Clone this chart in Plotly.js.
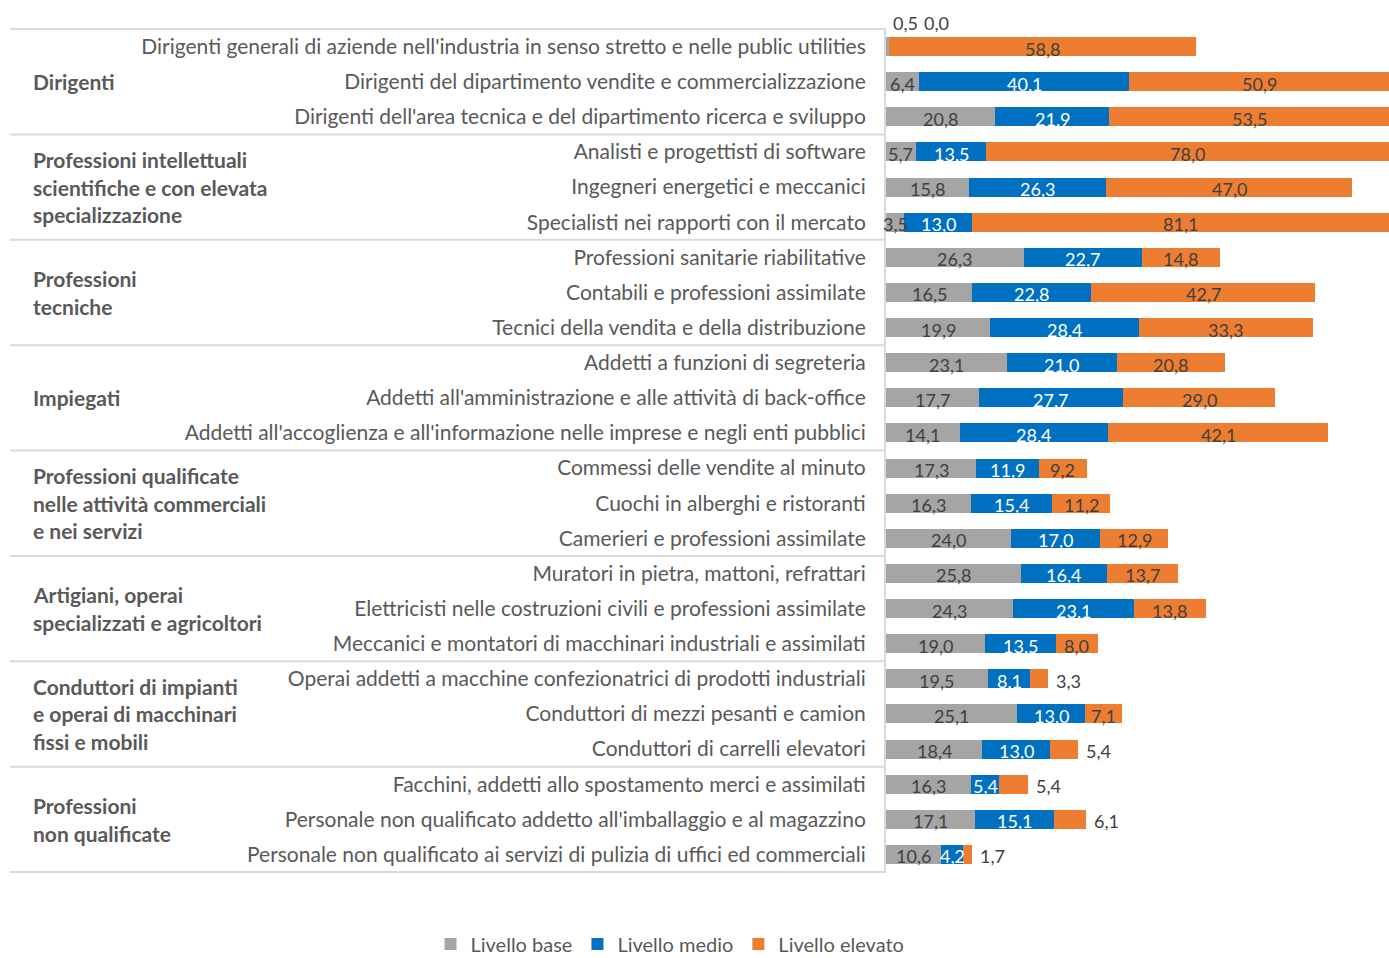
<!DOCTYPE html>
<html>
<head>
<meta charset="utf-8">
<script src="https://cdn.plot.ly/plotly-3.0.1.min.js"></script>
<style>html,body{margin:0;padding:0;background:#fff;}#chart{width:1389px;height:958px;}</style>
</head>
<body>
<div id="chart"></div>
<script>
// ---- DATA ----
const groups = [
  ["Dirigenti"],
  ["Professioni intellettuali", "scientifiche e con elevata", "specializzazione"],
  ["Professioni", "tecniche"],
  ["Impiegati"],
  ["Professioni qualificate", "nelle attività commerciali", "e nei servizi"],
  ["Artigiani, operai", "specializzati e agricoltori"],
  ["Conduttori di impianti", "e operai di macchinari", "fissi e mobili"],
  ["Professioni", "non qualificate"]
];
const categories = [
  "Dirigenti generali di aziende nell'industria in senso stretto e nelle public utilities",
  "Dirigenti del dipartimento vendite e commercializzazione",
  "Dirigenti dell'area tecnica e del dipartimento ricerca e sviluppo",
  "Analisti e progettisti di software",
  "Ingegneri energetici e meccanici",
  "Specialisti nei rapporti con il mercato",
  "Professioni sanitarie riabilitative",
  "Contabili e professioni assimilate",
  "Tecnici della vendita e della distribuzione",
  "Addetti a funzioni di segreteria",
  "Addetti all'amministrazione e alle attività di back-office",
  "Addetti all'accoglienza e all'informazione nelle imprese e negli enti pubblici",
  "Commessi delle vendite al minuto",
  "Cuochi in alberghi e ristoranti",
  "Camerieri e professioni assimilate",
  "Muratori in pietra, mattoni, refrattari",
  "Elettricisti nelle costruzioni civili e professioni assimilate",
  "Meccanici e montatori di macchinari industriali e assimilati",
  "Operai addetti a macchine confezionatrici di prodotti industriali",
  "Conduttori di mezzi pesanti e camion",
  "Conduttori di carrelli elevatori",
  "Facchini, addetti allo spostamento merci e assimilati",
  "Personale non qualificato addetto all'imballaggio e al magazzino",
  "Personale non qualificato ai servizi di pulizia di uffici ed commerciali"
];
const livelloBase = [0.5, 6.4, 20.8, 5.7, 15.8, 3.5, 26.3, 16.5, 19.9, 23.1, 17.7, 14.1, 17.3, 16.3, 24.0, 25.8, 24.3, 19.0, 19.5, 25.1, 18.4, 16.3, 17.1, 10.6];
const livelloMedio = [0.0, 40.1, 21.9, 13.5, 26.3, 13.0, 22.7, 22.8, 28.4, 21.0, 27.7, 28.4, 11.9, 15.4, 17.0, 16.4, 23.1, 13.5, 8.1, 13.0, 13.0, 5.4, 15.1, 4.2];
const livelloElevato = [58.8, 50.9, 53.5, 78.0, 47.0, 81.1, 14.8, 42.7, 33.3, 20.8, 29.0, 42.1, 9.2, 11.2, 12.9, 13.7, 13.8, 8.0, 3.3, 7.1, 5.4, 5.4, 6.1, 1.7];
const seriesNames = ["Livello base", "Livello medio", "Livello elevato"];

// ---- STYLE ----
const FONT = 'Lato, "Open Sans", sans-serif';
const colors = ["#a5a5a5", "#0070c0", "#ed7d31"];
const labelColors = ["#404040", "#ffffff", "#404040"];
const textGray = "#595959";
const lineGray = "#d9d9d9";
const XMAX = 96.2;
const W = 1389, H = 958, ML = 886, MR = 0, MT = 29, MB = 86;
const PW = W - ML - MR, PH = H - MT - MB;

const series = [livelloBase, livelloMedio, livelloElevato];
const traces = series.map((vals, i) => ({
  type: "bar", orientation: "h", name: seriesNames[i],
  y: categories, x: vals,
  marker: {color: colors[i]}, hoverinfo: "skip", textposition: "none"
}));

const fmt = v => v.toFixed(1).replace(".", ",");
const annotations = [];
categories.forEach((cat, r) => {
  let start = 0, tiny = 0;
  series.forEach((vals, i) => {
    const v = vals[r];
    const end = start + v;
    if (v < 1) {
      annotations.push({xref: "x", yref: "y", x: 0, y: cat, text: fmt(v), showarrow: false,
        xanchor: "left", yanchor: "middle", xshift: 5 + 31 * tiny, yshift: 24,
        font: {family: FONT, size: 18, color: "#404040"}});
      tiny++;
    } else if (i === 2 && v < 7) {
      annotations.push({xref: "x", yref: "y", x: end, y: cat, text: fmt(v), showarrow: false,
        xanchor: "left", yanchor: "middle", xshift: 6, yshift: -2,
        font: {family: FONT, size: 18, color: "#404040"}});
    } else {
      const mid = (start + Math.min(end, XMAX)) / 2;
      annotations.push({xref: "x", yref: "y", x: mid, y: cat, text: fmt(v), showarrow: false,
        xanchor: "center", yanchor: "middle", yshift: -2,
        font: {family: FONT, size: 18, color: labelColors[i]}});
    }
    start = end;
  });
});

// group labels
const gx = (31 - ML) / PW;
const lineH = 27.5;
groups.forEach((lines, g) => {
  const n = lines.length;
  lines.forEach((t, j) => {
    annotations.push({xref: "paper", yref: "y", x: gx, y: categories[3 * g + 1], text: t,
      showarrow: false, xanchor: "left", yanchor: "middle",
      yshift: -(j - (n - 1) / 2) * lineH,
      font: {family: FONT, size: 21, color: textGray, weight: "bold"}});
  });
});

// separators
const shapes = [];
for (let k = 0; k <= groups.length; k++) {
  shapes.push({type: "line", xref: "paper", yref: "paper", x0: (10 - ML) / PW, x1: 0,
    y0: 1 - k / groups.length, y1: 1 - k / groups.length,
    line: {color: lineGray, width: 2}});
}

const layout = {
  width: W, height: H,
  margin: {l: ML, r: MR, t: MT, b: MB, pad: 0, autoexpand: false},
  paper_bgcolor: "#fff", plot_bgcolor: "#fff",
  barmode: "stack", bargap: 0.46,
  font: {family: FONT, color: textGray},
  xaxis: {range: [0, XMAX], showgrid: false, zeroline: false, showticklabels: false,
    showline: false, ticks: "", fixedrange: true},
  yaxis: {type: "category", autorange: "reversed", showgrid: false, zeroline: false,
    showline: true, linecolor: lineGray, linewidth: 2, ticks: "",
    ticklabelstandoff: 14, tickfont: {family: FONT, size: 21, color: textGray},
    automargin: false, fixedrange: true},
  showlegend: true,
  legend: {orientation: "h", x: (670 - ML) / PW, xanchor: "center",
    y: -(944 - (MT + PH)) / PH, yanchor: "middle",
    font: {family: FONT, size: 20, color: textGray}, traceorder: "normal"},
  annotations: annotations,
  shapes: shapes
};

Plotly.newPlot("chart", traces, layout, {displayModeBar: false, staticPlot: true});
</script>
</body>
</html>
